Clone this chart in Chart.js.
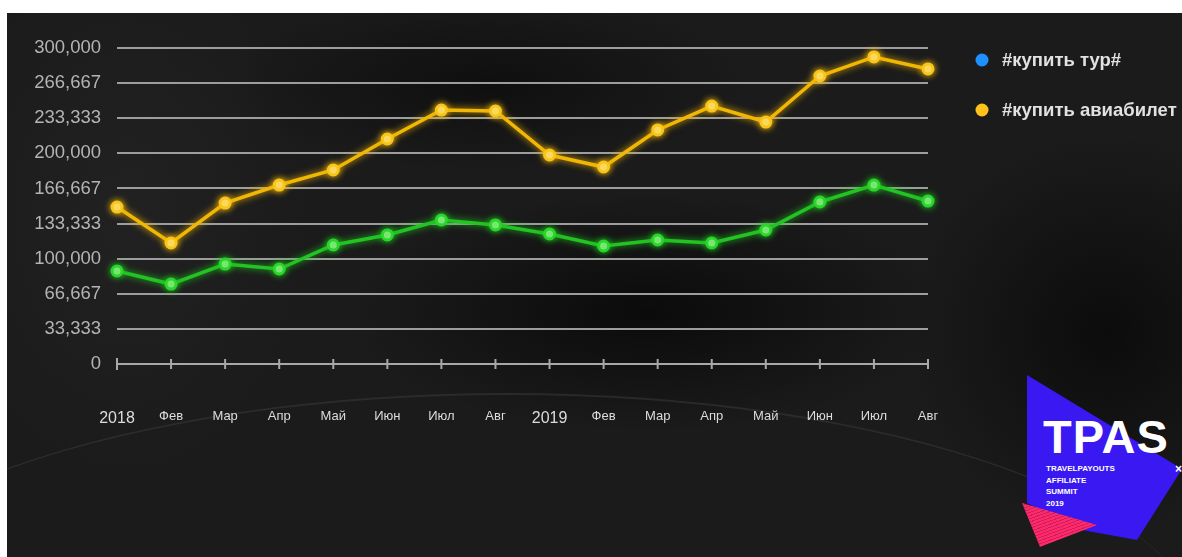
<!DOCTYPE html>
<html>
<head>
<meta charset="utf-8">
<script src="https://cdn.jsdelivr.net/npm/chart.js@4.4.1/dist/chart.umd.min.js"></script>
<style>
  html, body { margin: 0; padding: 0; background: #ffffff; width: 1182px; height: 557px; overflow: hidden; }
  #bg {
    position: absolute; left: 7px; top: 13px; width: 1175px; height: 544px; overflow: hidden;
    background:
      radial-gradient(ellipse 300px 120px at 640px 300px, rgba(8,8,8,0.85), rgba(8,8,8,0) 100%),
      radial-gradient(ellipse 260px 90px at 480px 70px, rgba(10,10,10,0.7), rgba(10,10,10,0) 100%),
      radial-gradient(ellipse 200px 200px at 1100px 320px, rgba(8,8,8,0.8), rgba(8,8,8,0) 100%),
      radial-gradient(ellipse 180px 260px at 120px 200px, rgba(40,40,40,0.5), rgba(40,40,40,0) 100%),
      #1b1b1b;
  }
  #arc {
    position: absolute; left: -200px; top: 380px; width: 1400px; height: 500px;
    border-radius: 50%; border-top: 2px solid rgba(60,60,60,0.5);
  }
  #wrap { position: absolute; left: 0; top: 0; width: 1182px; height: 557px; }
  #logo {
    position: absolute; left: 1027px; top: 375px; width: 155px; height: 170px;
    background: #3a18f2;
    clip-path: polygon(0px 0px, 155px 94px, 110px 165px, 55px 155px, 0px 128px);
  }
  #pink {
    position: absolute; left: 1022px; top: 503px; width: 80px; height: 45px;
    background: repeating-linear-gradient(160deg, #ff2a6d 0px, #ff2a6d 2px, #d01f58 2px, #d01f58 3px);
    clip-path: polygon(0px 0px, 75px 22px, 18px 44px);
  }
  #tpas {
    position: absolute; left: 1043px; top: 412px; color: #ffffff;
    font-family: "Liberation Sans", Arial, sans-serif; font-weight: bold; font-size: 47px; line-height: 50px; letter-spacing: 1px;
  }
  #sub {
    position: absolute; left: 1046px; top: 463px; color: #ffffff;
    font-family: "Liberation Sans", Arial, sans-serif; font-weight: bold; font-size: 8px; line-height: 11.5px;
  }
  #xmark { position: absolute; left: 1175px; top: 462px; color: #fff; font: bold 12px "Liberation Sans", sans-serif; }
</style>
</head>
<body>
<div id="bg"><div id="arc"></div></div>
<div id="logo"></div>
<div id="pink"></div>
<div id="tpas">TPAS</div>
<div id="sub">TRAVELPAYOUTS<br>AFFILIATE<br>SUMMIT<br>2019</div>
<div id="xmark">×</div>
<div id="wrap"><canvas id="c" width="1182" height="557"></canvas></div>
<script>
// ---- data ----
const categories = ['2018','Фев','Мар','Апр','Май','Июн','Июл','Авг','2019','Фев','Мар','Апр','Май','Июн','Июл','Авг'];
const tourValues = [88300, 75900, 94900, 90200, 113000, 122500, 136700, 132000, 123400, 112000, 117700, 114900, 127200, 153800, 169900, 154700];
const aviaValues = [149000, 114900, 152800, 169900, 184200, 213600, 241100, 240200, 198400, 187000, 222200, 244900, 229700, 273400, 291500, 280100];
const yTickValues = [0, 33333, 66667, 100000, 133333, 166667, 200000, 233333, 266667, 300000];
const seriesNames = ['#купить тур#', '#купить авиабилет'];
const legendColors = ['#1e90ff', '#ffc21a'];

function fmt(v) { return String(Math.round(v)).replace(/\B(?=(\d{3})+(?!\d))/g, ','); }

const glowPlugin = {
  id: 'glow',
  beforeDatasetDraw(chart, args) {
    const ctx = chart.ctx;
    ctx.save();
    ctx.shadowColor = args.meta.dataset.options.borderColor;
    ctx.shadowBlur = 7;
  },
  afterDatasetDraw(chart) { chart.ctx.restore(); }
};

const axisTicksPlugin = {
  id: 'axisTicks',
  beforeDatasetsDraw(chart) {
    const ctx = chart.ctx, xs = chart.scales.x, ys = chart.scales.y;
    const y0 = ys.getPixelForValue(0);
    ctx.save();
    ctx.strokeStyle = '#a8a8a8';
    ctx.lineWidth = 2;
    categories.forEach((c, i) => {
      const x = xs.getPixelForTick(i);
      const h = i === 0 ? 6 : 5;
      ctx.beginPath();
      ctx.moveTo(x, y0 - h);
      ctx.lineTo(x, y0 + h);
      ctx.stroke();
    });
    ctx.restore();
  }
};

const legendPlugin = {
  id: 'customLegend',
  afterDraw(chart) {
    const ctx = chart.ctx;
    const x0 = chart.chartArea.right + 54;
    const ys = [60, 110];
    ctx.save();
    seriesNames.forEach((name, i) => {
      ctx.fillStyle = legendColors[i];
      ctx.beginPath();
      ctx.arc(x0, ys[i], 6.5, 0, Math.PI * 2);
      ctx.fill();
      ctx.fillStyle = '#e2e2e2';
      ctx.font = 'bold 18.5px "Liberation Sans", Arial, sans-serif';
      ctx.textBaseline = 'middle';
      ctx.textAlign = 'left';
      ctx.fillText(name, x0 + 20, ys[i] + 1);
    });
    ctx.restore();
  }
};

new Chart(document.getElementById('c'), {
  type: 'line',
  data: {
    labels: categories,
    datasets: [
      {
        label: seriesNames[0],
        data: tourValues,
        borderColor: '#22c322',
        borderWidth: 3.5,
        pointRadius: 5,
        pointBorderWidth: 3,
        pointBorderColor: '#2ad62a',
        pointBackgroundColor: '#b9ffb0',
        tension: 0,
        clip: false
      },
      {
        label: seriesNames[1],
        data: aviaValues,
        borderColor: '#f2b705',
        borderWidth: 3.5,
        pointRadius: 5,
        pointBorderWidth: 3,
        pointBorderColor: '#f8c51a',
        pointBackgroundColor: '#fff2a0',
        tension: 0,
        clip: false
      }
    ]
  },
  options: {
    responsive: false,
    animation: false,
    devicePixelRatio: 1,
    layout: { padding: { left: 0, right: 254, top: 48, bottom: 0 } },
    plugins: { legend: { display: false }, tooltip: { enabled: false } },
    scales: {
      x: {
        type: 'category',
        offset: false,
        grid: { display: false },
        border: { display: true, color: '#a8a8a8', width: 2 },
        ticks: {
          padding: 37,
          maxRotation: 0,
          autoSkip: false,
          color: '#dcdcdc',
          font: (ctx) => {
            const lbl = categories[ctx.index];
            return /^\d{4}$/.test(lbl)
              ? { family: '"Liberation Sans", Arial, sans-serif', size: 16 }
              : { family: '"Liberation Sans", Arial, sans-serif', size: 13 };
          }
        },
        afterFit(scale) { scale.height = 557 - 364; }
      },
      y: {
        min: 0,
        max: 300000,
        afterBuildTicks(scale) { scale.ticks = yTickValues.map(v => ({ value: v })); },
        grid: { color: '#9d9d9d', lineWidth: 2, drawTicks: false },
        border: { display: false },
        ticks: {
          padding: 16,
          color: '#b4b4b4',
          font: { family: '"Liberation Sans", Arial, sans-serif', size: 18.5 },
          callback: (v) => fmt(v)
        },
        afterFit(scale) { scale.width = 117; }
      }
    }
  },
  plugins: [glowPlugin, axisTicksPlugin, legendPlugin]
});
</script>
</body>
</html>
